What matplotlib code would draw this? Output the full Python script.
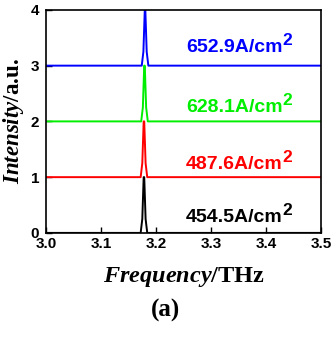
import matplotlib
matplotlib.use("Agg")
import matplotlib.pyplot as plt

plt.rcParams['mathtext.fontset'] = 'custom'
plt.rcParams['mathtext.bfit'] = 'Liberation Serif:italic:bold'
plt.rcParams['mathtext.rm'] = 'Liberation Serif'

# spectra: frequency (THz) vs normalised intensity, one per drive current
freq_454 = [3.0, 3.172, 3.175, 3.1775, 3.1785, 3.181, 3.184, 3.5]
intensity_454 = [0, 0, 0.25, 1.0, 1.0, 0.25, 0, 0]
freq_487 = [3.0, 3.172, 3.175, 3.1775, 3.1785, 3.181, 3.184, 3.5]
intensity_487 = [0, 0, 0.25, 1.0, 1.0, 0.25, 0, 0]
freq_628 = [3.0, 3.173, 3.176, 3.1785, 3.1795, 3.182, 3.185, 3.5]
intensity_628 = [0, 0, 0.25, 1.0, 1.0, 0.25, 0, 0]
freq_652 = [3.0, 3.174, 3.177, 3.1795, 3.1805, 3.183, 3.186, 3.5]
intensity_652 = [0, 0, 0.25, 1.0, 1.0, 0.25, 0, 0]

current_labels = ["454.5", "487.6", "628.1", "652.9"]
offsets = [0, 1, 2, 3]
colors = ["black", "red", "#00ee00", "blue"]
label_y = [0.28, 1.22, 2.25, 3.33]

spectra = [(freq_454, intensity_454), (freq_487, intensity_487),
           (freq_628, intensity_628), (freq_652, intensity_652)]

fig = plt.figure(figsize=(3.34, 3.41), dpi=100)
ax = fig.add_axes([0.138, 0.317, 0.823, 0.654])

for (f, inten), off, c, lab, ly in zip(spectra, offsets, colors, current_labels, label_y):
    ax.plot(f, [v + off for v in inten], color=c, lw=1.4)
    ax.text(3.430, ly, lab + "A/cm", color=c, ha="right", va="center",
            fontsize=14, fontweight="bold", family="Liberation Sans")
    # superscript drawn as its own text so it stays near full size
    ax.annotate("2", (3.430, ly), xytext=(0, 7), textcoords="offset pixels",
                color=c, ha="left", va="center", fontsize=12.5,
                fontweight="bold", family="Liberation Sans")

ax.set_xlim(3.0, 3.5)
ax.set_ylim(0, 4)
ax.set_xticks([3.0, 3.1, 3.2, 3.3, 3.4, 3.5])
ax.set_yticks([0, 1, 2, 3, 4])
ax.tick_params(direction="in", length=4, width=1, labelsize=11, pad=3)
ax.tick_params(axis="y", pad=5)
for t in ax.get_xticklabels() + ax.get_yticklabels():
    t.set_fontweight("bold")
    t.set_family("Liberation Sans")
for s in ax.spines.values():
    s.set_linewidth(1.2)

ax.set_xlabel(r"$\mathbfit{Frequency}$/THz", fontsize=17.5, fontweight="bold",
              family="Liberation Serif", labelpad=10)
ax.set_ylabel(r"$\mathbfit{Intensity}$/a.u.", fontsize=16.5, fontweight="bold",
              family="Liberation Serif", labelpad=3)
fig.text(0.497, 1 - 310 / 341, "(a)", ha="center", va="center", fontsize=18,
         fontweight="bold", family="Liberation Serif")

fig.savefig("out.png", dpi=100)
